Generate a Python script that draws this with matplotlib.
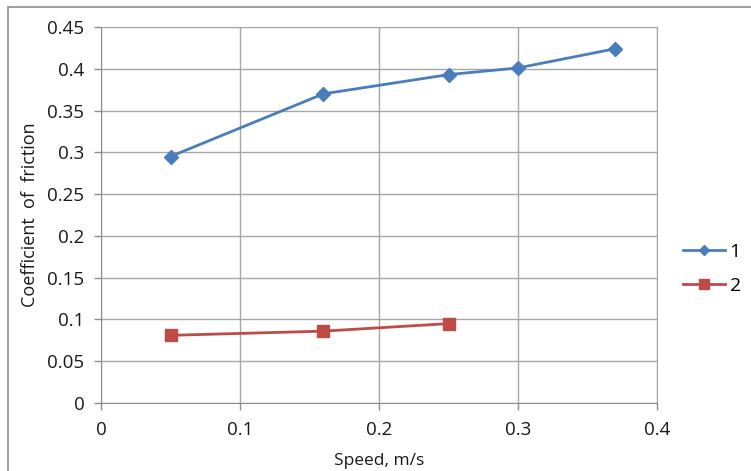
import matplotlib
matplotlib.use("Agg")
import matplotlib.pyplot as plt
from matplotlib.patches import Rectangle

# speed (m/s) and coefficient of friction
speed_1 = [0.05, 0.16, 0.25, 0.30, 0.37]
friction_1 = [0.295, 0.370, 0.393, 0.401, 0.424]
speed_2 = [0.05, 0.16, 0.25]
friction_2 = [0.081, 0.086, 0.095]
series_names = ["1", "2"]

x_ticks = [0, 0.1, 0.2, 0.3, 0.4]
x_labels = ["0", "0.1", "0.2", "0.3", "0.4"]
y_ticks = [0, 0.05, 0.1, 0.15, 0.2, 0.25, 0.3, 0.35, 0.4, 0.45]
y_labels = ["0", "0.05", "0.1", "0.15", "0.2", "0.25", "0.3", "0.35", "0.4", "0.45"]

plt.rcParams["font.family"] = ["Open Sans", "DejaVu Sans"]

W, H = 751, 471
fig = plt.figure(figsize=(W / 100, H / 100), dpi=100)
ax = fig.add_axes([101 / W, 1 - 403 / H, (657 - 101) / W, (403 - 27) / H])

ax.plot(speed_1, friction_1, color="#4a7ebb", lw=2.0, marker="D", ms=7,
        label=series_names[0], zorder=3)
ax.plot(speed_2, friction_2, color="#be4b48", lw=2.0, marker="s", ms=8.5,
        label=series_names[1], zorder=3)

ax.set_xlim(0, 0.4)
ax.set_ylim(0, 0.45)
ax.set_xticks(x_ticks)
ax.set_xticklabels(x_labels)
ax.set_yticks(y_ticks)
ax.set_yticklabels(y_labels)

# excel-like grid
ax.grid(True, color="#a6a6a6", lw=1)
ax.set_axisbelow(True)
for s in ["top", "right"]:
    ax.spines[s].set_color("#a6a6a6")
for s in ["left", "bottom"]:
    ax.spines[s].set_color("#8c8c8c")
ax.tick_params(colors="#8c8c8c", labelcolor="#1a1a1a", labelsize=13.5,
               length=5, width=1, direction="out")
ax.tick_params(axis="y", pad=7)
ax.tick_params(axis="x", pad=8)

ax.set_xlabel("Speed, m/s", fontsize=12.5, color="#1a1a1a", labelpad=10)
ax.set_ylabel("Coefficient  of  friction", fontsize=13, color="#1a1a1a",
              labelpad=6)

fig.legend(loc="center left", bbox_to_anchor=(683 / W, 1 - 269 / H),
           frameon=False, fontsize=14, handlelength=2.15, labelspacing=0.85,
           handletextpad=0.25, borderpad=0, borderaxespad=0, markerscale=0.8)

# outer chart-area border
fig.patches.append(Rectangle((8 / W, -0.05), 1.0, 1 - 7 / H + 0.05,
                             transform=fig.transFigure, fill=False,
                             edgecolor="#8c8c8c", lw=1.2))

fig.savefig("out.png", dpi=100)
